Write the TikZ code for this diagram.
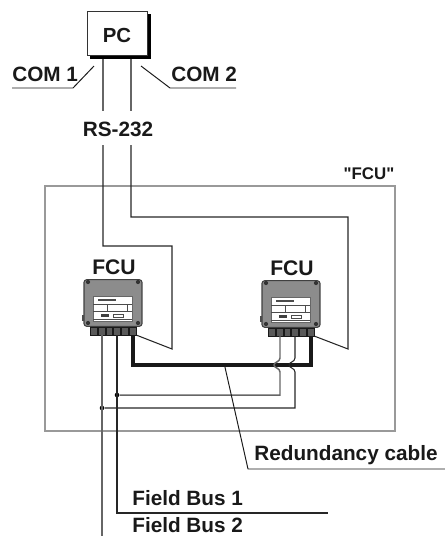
\documentclass[tikz,border=0pt]{standalone}
\usepackage{fontspec}
\setmainfont[Ligatures=TeXOff]{Liberation Sans}
\usepackage{tikz}

\tikzset{
  lbl/.style={font=\bfseries\fontsize{11.8}{13}\selectfont, text=black!90, inner sep=0pt},
  wire/.style={line width=0.6pt, black!85},
  graywire/.style={line width=0.85pt, black!60},
  leader/.style={line width=0.55pt, black!90},
  fcubody/.style={draw=black!75, fill=black!45, rounded corners=1.5pt, line width=0.6pt, minimum width=33pt, minimum height=26.5pt, inner sep=0pt},
  fcupanel/.style={draw=black!60, fill=white, line width=0.3pt, minimum width=22pt, minimum height=14.5pt, inner sep=0pt},
  term/.style={draw=black!90, fill=black!65, line width=0.4pt, minimum width=3.8pt, minimum height=4.4pt, inner sep=0pt},
  bolt/.style={circle, fill=black!80, inner sep=0pt, minimum size=2.4pt},
  joint/.style={circle, fill=black, inner sep=0pt, minimum size=2.6pt},
}

\begin{document}
\begin{tikzpicture}[x=0.2mm, y=-0.2mm]
  \useasboundingbox (0,0) rectangle (445,536);
  % frame
  \draw[black!40, line width=1.3pt] (45,186) rectangle (395,431);
  \node[lbl, font=\bfseries\fontsize{9.6}{11}\selectfont] (framelbl) at (369,174) {"FCU"};
  % PC
  \fill[black] (90,14) rectangle (151,59);
  \node[draw=black!80, fill=white, line width=0.6pt, minimum width=34.5pt, minimum height=25.5pt, inner sep=0pt] (pc) at (117.5,33.5) {};
  \node[lbl, font=\bfseries\fontsize{11.6}{13}\selectfont] (pclbl) at (117,35) {PC};
  % COM labels
  \node[lbl, anchor=west] (com1) at (12,74.5) {COM 1};
  \node[lbl, anchor=west] (com2) at (171,74.5) {COM 2};
  \coordinate (com1a) at (12,88);
  \coordinate (com1b) at (73,88);
  \coordinate (com1c) at (94,66);
  \coordinate (com2a) at (236,88);
  \coordinate (com2b) at (170,88);
  \coordinate (com2c) at (141,66);
  \draw[leader] (com1a) -- (com1b) -- (com1c);
  \draw[leader] (com2a) -- (com2b) -- (com2c);
  % RS-232
  \node[lbl] (rs) at (118,129) {RS-232};
  \coordinate (pca) at (103,59);
  \coordinate (pcb) at (131,59);
  \coordinate (rsa) at (103,111);
  \coordinate (rsb) at (131,111);
  \coordinate (rsc) at (103,145);
  \coordinate (rsd) at (131,145);
  \draw[graywire] (pca) -- (rsa);
  \draw[graywire] (pcb) -- (rsb);
  % FCU units
  \foreach \nm/\sx/\sy in {l/0/0, r/178/1} {
    \begin{scope}[shift={(\sx,\sy)}]
      \node[lbl, font=\bfseries\fontsize{12}{14}\selectfont] (fcu\nm lbl) at (114,267) {FCU};
      \node[fcubody] (fcu\nm) at (113,303) {};
      \fill[black!70] (82,315) rectangle (84,321);
      \foreach \b/\bx/\by in {a/88/282, b/138/282, c/88/323, d/138/323}
        \node[bolt] (bolt\nm\b) at (\bx,\by) {};
      \node[fcupanel] (panel\nm) at (112.5,309) {};
      \draw[black!70, line width=0.25pt] (93,304) -- (132,304) (93,311) -- (132,311) (93,319) -- (132,319)
        (107,304) -- (107,311) (127,304) -- (127,311);
      \fill[black!70] (98,299) rectangle (116,300.5);
      \fill[black!75] (101,314) rectangle (109,317);
      \draw[black!70, line width=0.3pt] (113,314) rectangle (123,317);
      \foreach \t/\tx in {1/94, 2/102, 3/109.5, 4/117, 5/125, 6/133}
        \node[term] (term\nm\t) at (\tx,331) {};
    \end{scope}
  }
  % serial lines
  \coordinate (la) at (103,246);
  \coordinate (lb) at (172,246);
  \coordinate (lc) at (172,349);
  \coordinate (ra) at (131,217);
  \coordinate (rb) at (348,217);
  \coordinate (rc) at (348,349);
  \draw[wire] (rsc) -- (la) -- (lb) -- (lc) -- (terml6.south east);
  \draw[wire] (rsd) -- (ra) -- (rb) -- (rc) -- (termr6.south east);
  % redundancy
  \coordinate (redl) at (133,365);
  \coordinate (redr) at (311,365);
  \draw[line width=1.9pt, black!90, line join=miter] (terml6.south) -- (redl) -- (redr) -- (termr6.south);
  % field bus
  \coordinate (busa) at (280,395);
  \coordinate (busb) at (295,408);
  \node[joint] (ja) at (117,395) {};
  \node[joint] (jb) at (102,408) {};
  \draw[graywire] (termr2.south) -- (280,358) .. controls (280,362) and (274,362) .. (274,365)
    .. controls (274,368) and (280,368) .. (280,372) -- (busa) -- (ja);
  \draw[wire] (termr4.south) -- (295,358) .. controls (295,362) and (289,362) .. (289,365)
    .. controls (289,368) and (295,368) .. (295,372) -- (busb) -- (jb);
  \coordinate (bus1a) at (117,513);
  \coordinate (bus1b) at (328,513);
  \coordinate (bus2a) at (102,536);
  \draw[wire] (terml4.south) -- (bus1a) -- (bus1b);
  \draw[graywire] (terml2.south) -- (bus2a);
  % labels below
  \node[lbl, anchor=west] (redlbl) at (254,455) {Redundancy cable};
  \node[lbl, anchor=west] (bus1) at (132,498) {Field Bus 1};
  \node[lbl, anchor=west] (bus2) at (132,525.5) {Field Bus 2};
  \coordinate (rlead) at (224.5,365);
  \coordinate (rleadb) at (248,469);
  \coordinate (rleadc) at (445,469);
  \draw[leader] (rlead) -- (rleadb) -- (rleadc);
\end{tikzpicture}
\end{document}
